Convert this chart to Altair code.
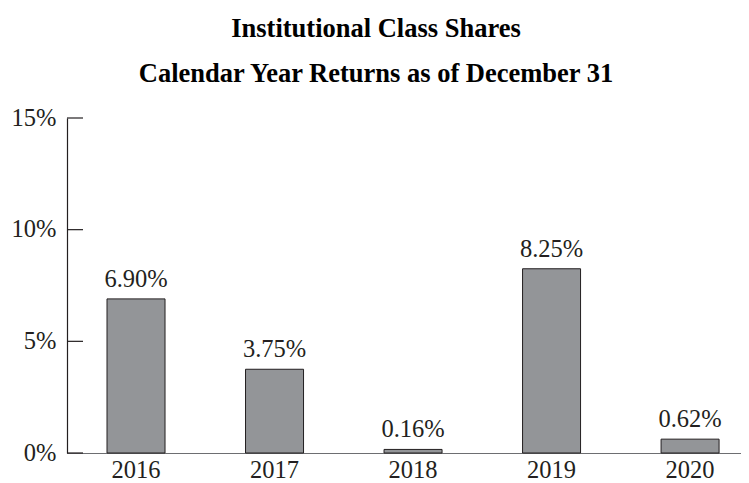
import altair as alt
import pandas as pd

years = ["2016", "2017", "2018", "2019", "2020"]
returns = [6.90, 3.75, 0.16, 8.25, 0.62]
y_ticks = [0, 5, 10, 15]
title_lines = ["Institutional Class Shares", "Calendar Year Returns as of December 31"]

FONT = "Liberation Serif"

df = pd.DataFrame({"year": years, "ret": returns})
df["label"] = [f"{v:.2f}%" for v in returns]
ticks_df = pd.DataFrame({"t": y_ticks})

x_scale = alt.Scale(domain=years, paddingInner=0.5812, paddingOuter=0.2236, align=0.646)
y_scale = alt.Scale(domain=[0, 15], nice=False)

bars = alt.Chart(df).mark_bar(
    color="#939598", stroke="#231f20", strokeWidth=1
).encode(
    x=alt.X("year:N", scale=x_scale, sort=years,
            axis=alt.Axis(title=None, labelAngle=0, ticks=False, labelFont=FONT,
                          labelFontSize=24.5, labelColor="#231f20", labelPadding=5,
                          domainColor="#6d6e71", domainWidth=1.2)),
    y=alt.Y("ret:Q", scale=y_scale,
            axis=alt.Axis(title=None, values=y_ticks, ticks=False, grid=False,
                          labelExpr="datum.value + '%'", labelFont=FONT,
                          labelFontSize=24.5, labelColor="#231f20", labelPadding=11,
                          domainColor="#231f20", domainWidth=1.2)),
)

labels = alt.Chart(df).mark_text(
    font=FONT, fontSize=24.5, color="#231f20", baseline="bottom", dy=-7
).encode(
    x=alt.X("year:N", scale=x_scale, sort=years),
    y=alt.Y("ret:Q", scale=y_scale),
    text="label:N",
)

tick_rules = alt.Chart(ticks_df).mark_rule(color="#231f20", strokeWidth=1.2).encode(
    y=alt.Y("t:Q", scale=y_scale),
    x=alt.value(0),
    x2=alt.value(16),
)

chart = alt.layer(bars, tick_rules, labels).properties(
    width=674,
    height=335,
    autosize=alt.AutoSizeParams(type="none"),
    padding={"left": 59, "top": 110, "right": 0, "bottom": 30},
    title=alt.TitleParams(
        text=title_lines, font=FONT, fontSize=26.5, fontWeight="bold", color="#000000",
        anchor="middle", frame="group", dx=-28, lineHeight=45, offset=18,
    ),
).configure_view(stroke=None)

chart.save("out.html", embed_options={"renderer": "svg", "actions": False})
